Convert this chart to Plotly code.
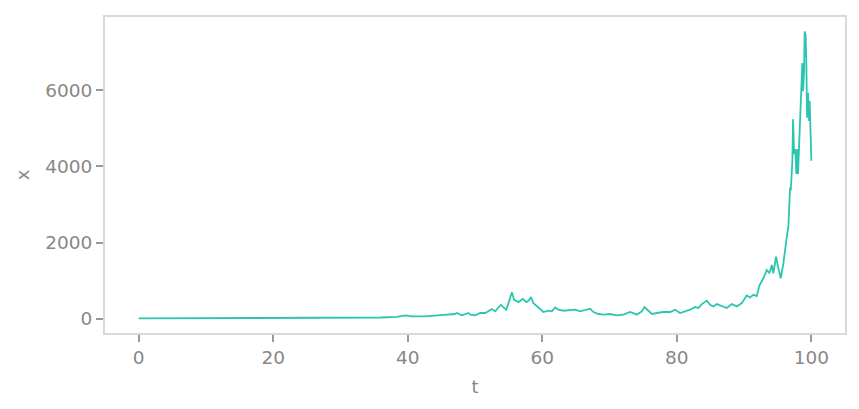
import plotly.graph_objects as go

# time points and values
t = [0, 5, 10, 15, 20, 25, 28.5, 32, 36, 38.4, 39.7, 40.5, 42.5, 44.5, 46, 47, 47.3, 48.05,
     49.03, 49.29, 50.04, 50.78, 51.52, 52.01, 52.51, 53.00, 53.49, 53.85, 54.23, 54.64,
     54.98, 55.48, 55.82, 56.46, 57.12, 57.61, 57.95, 58.31, 58.69, 59.20, 59.69, 60.18,
     60.92, 61.43, 61.92, 62.41, 63.15, 64.15, 64.89, 65.63, 66.37, 67.12, 67.61, 68.35,
     69.09, 70.09, 71.08, 72.07, 73.06, 74.06, 74.80, 75.19, 75.78, 76.29, 77.03, 78.01,
     79.01, 79.75, 80.49, 81.23, 81.98, 82.72, 83.21, 83.71, 84.46, 84.95, 85.44, 85.94,
     86.69, 87.43, 88.17, 88.92, 89.66, 90.40, 90.89, 91.38, 91.89, 92.27, 92.87, 93.37,
     93.76, 94.12, 94.35, 94.75, 95.10, 95.45, 95.84, 96.09, 96.35, 96.58, 96.73, 96.84,
     96.94, 97.09, 97.18, 97.28, 97.43, 97.62, 97.77, 97.92, 98.02, 98.26, 98.37, 98.51,
     98.66, 98.77, 98.92, 99.0, 99.15, 99.26, 99.36, 99.51, 99.66, 99.75, 100.0]
x = [5, 6, 8, 10, 12, 15, 17, 20, 30, 44, 87, 61, 61, 87, 104, 122, 148, 87,
     148, 104, 87, 148, 148, 191, 252, 191, 278, 365, 295, 235,
     408, 695, 495, 435, 521, 435, 469, 565, 408, 321, 235, 174,
     208, 191, 295, 235, 208, 226, 235, 191, 217, 260, 174, 122,
     104, 122, 87, 104, 174, 104, 191, 304, 208, 122, 148, 174,
     174, 235, 148, 191, 235, 304, 278, 383, 469, 365, 321, 383,
     321, 278, 383, 321, 408, 608, 556, 626, 591, 869, 1061, 1278,
     1192, 1409, 1192, 1626, 1322, 1061, 1452, 1887, 2148, 2409, 2844, 3452,
     3366, 3801, 4148, 5236, 4323, 4453, 3801, 4453, 3801, 4931, 5539, 6061,
     6713, 5975, 6496, 7540, 7453, 6670, 5278, 5930, 5192, 5713, 4148]

x_ticks = [0, 20, 40, 60, 80, 100]
y_ticks = [0, 2000, 4000, 6000]

fig = go.Figure(go.Scatter(x=t, y=x, mode="lines",
                           line=dict(color="#2cc6b0", width=1.8),
                           showlegend=False))

axis_common = dict(showgrid=False, zeroline=False, showline=True, mirror=True,
                   linecolor="#d9d9d9", linewidth=2, ticks="outside", ticklen=7,
                   tickwidth=1.5, tickcolor="#999999",
                   tickfont=dict(family="DejaVu Sans", size=18.5, color="#888888"),
                   title_font=dict(family="DejaVu Sans", size=18, color="#888888"))

fig.update_xaxes(range=[-5, 105], tickvals=x_ticks, title_text="t",
                 title_standoff=13, **axis_common)
fig.update_yaxes(range=[-377, 7923], tickvals=y_ticks, title_text="x",
                 title_standoff=11, **axis_common)

fig.update_layout(width=859, height=409, plot_bgcolor="white", paper_bgcolor="white",
                  margin=dict(l=97, r=22, t=7, b=84))

fig.write_html("out.html")
